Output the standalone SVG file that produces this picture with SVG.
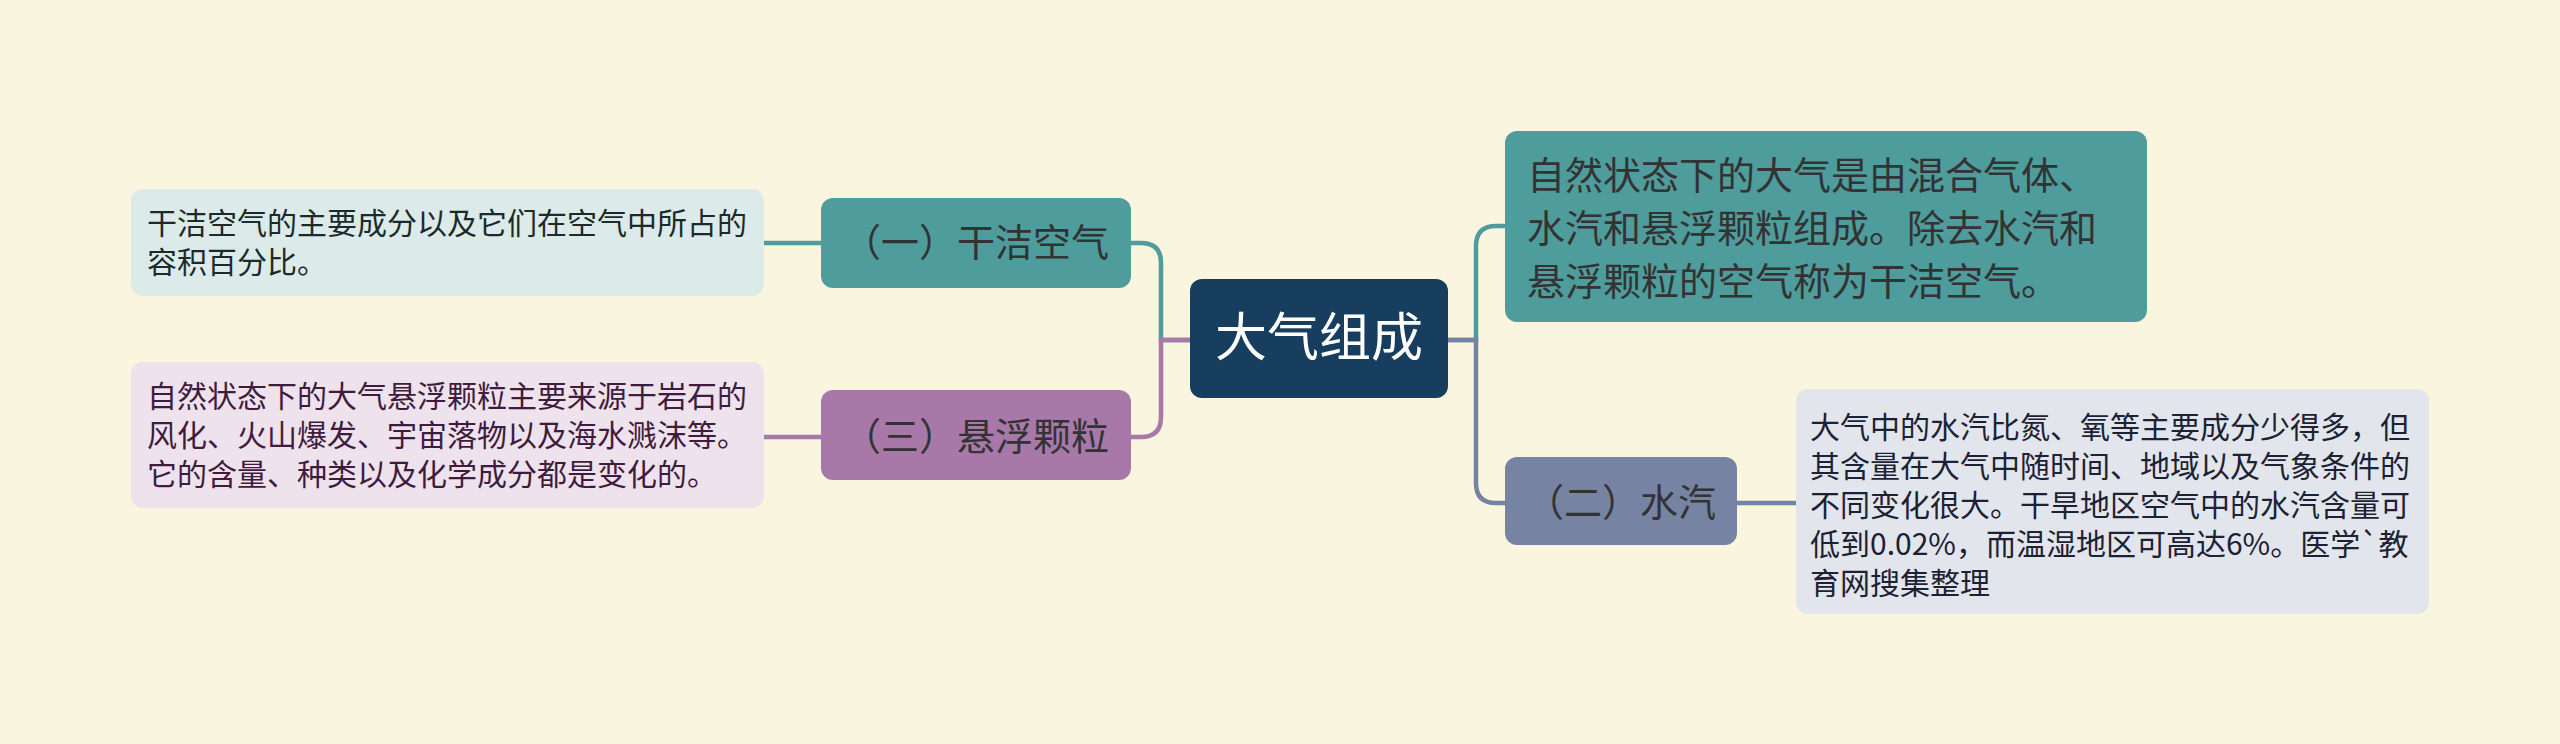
<svg xmlns="http://www.w3.org/2000/svg" width="2560" height="744" viewBox="0 0 2560 744">
<style>
text{font-family:"Noto Sans CJK SC","Noto Sans",sans-serif;}
.conn{fill:none;stroke-width:4.5;stroke-linecap:round;}
.t1{font-size:38px;fill:#333333;}
.t2{font-size:30px;}
</style>
<rect width="2560" height="744" fill="#faf5df"/>
<g id="connectors">
<path class="conn" stroke="#4e9c9b" d="M1190 340 H1161 V263 Q1161 243 1141 243 H1131"/>
<path class="conn" stroke="#a778a8" d="M1190 340 H1161 V417 Q1161 437 1141 437 H1131"/>
<path class="conn" stroke="#4e9c9b" d="M821 243 H764"/>
<path class="conn" stroke="#a778a8" d="M821 437 H764"/>
<path class="conn" stroke="#4e9c9b" d="M1448 340 H1476 V246 Q1476 226 1496 226 H1505"/>
<path class="conn" stroke="#7683a3" d="M1448 340 H1476 V483 Q1476 503 1496 503 H1505"/>
<path class="conn" stroke="#7683a3" d="M1737 503 H1796"/>
</g>
<g id="root">
<rect x="1190" y="279" width="258" height="119" rx="12" fill="#173e5e"/>
<text x="1319" y="356" font-size="52" fill="#ffffff" text-anchor="middle">大气组成</text>
</g>
<g id="topic-desc">
<rect x="1505" y="131" width="642" height="191" rx="12" fill="#4e9c9b"/>
<text class="t1" x="1527"><tspan x="1527" y="189">自然状态下的大气是由混合气体、</tspan><tspan x="1527" y="242">水汽和悬浮颗粒组成。除去水汽和</tspan><tspan x="1527" y="295">悬浮颗粒的空气称为干洁空气。</tspan></text>
</g>
<g id="branch-1">
<rect x="821" y="198" width="310" height="90" rx="12" fill="#4e9c9b"/>
<text class="t1" x="976" y="256" text-anchor="middle">（一）干洁空气</text>
</g>
<g id="branch-3">
<rect x="821" y="390" width="310" height="90" rx="12" fill="#a778a8"/>
<text class="t1" x="976" y="450" text-anchor="middle">（三）悬浮颗粒</text>
</g>
<g id="branch-2">
<rect x="1505" y="457" width="232" height="88" rx="12" fill="#7683a3"/>
<text class="t1" x="1621" y="516" text-anchor="middle">（二）水汽</text>
</g>
<g id="leaf-1">
<rect x="131" y="189" width="633" height="107" rx="12" fill="#dcebe9"/>
<text class="t2" fill="#1b2b2b"><tspan x="147" y="234">干洁空气的主要成分以及它们在空气中所占的</tspan><tspan x="147" y="273">容积百分比。</tspan></text>
</g>
<g id="leaf-3">
<rect x="131" y="362" width="633" height="146" rx="12" fill="#eee2ec"/>
<text class="t2" fill="#3f1c3e"><tspan x="147" y="407">自然状态下的大气悬浮颗粒主要来源于岩石的</tspan><tspan x="147" y="446">风化、火山爆发、宇宙落物以及海水溅沫等。</tspan><tspan x="147" y="485">它的含量、种类以及化学成分都是变化的。</tspan></text>
</g>
<g id="leaf-2">
<rect x="1796" y="389" width="633" height="225" rx="12" fill="#e2e5ec"/>
<text class="t2" fill="#1c2233"><tspan x="1810" y="438">大气中的水汽比氮、氧等主要成分少得多，但</tspan><tspan x="1810" y="477">其含量在大气中随时间、地域以及气象条件的</tspan><tspan x="1810" y="516">不同变化很大。干旱地区空气中的水汽含量可</tspan><tspan x="1810" y="555">低到0.02%，而温湿地区可高达6%。医学`教</tspan><tspan x="1810" y="594">育网搜集整理</tspan></text>
</g>
</svg>
